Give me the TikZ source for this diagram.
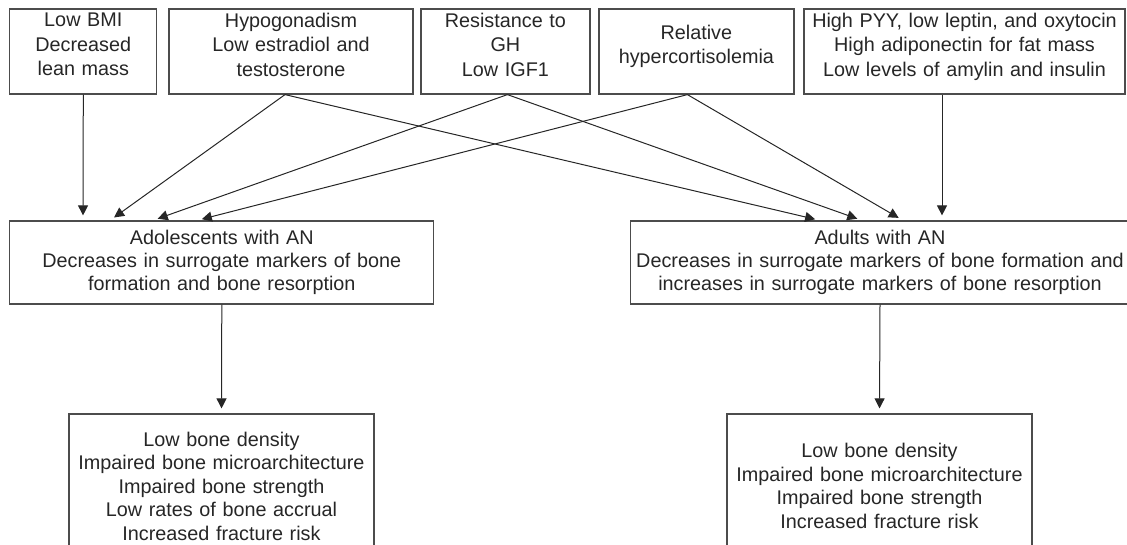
\documentclass[tikz,border=0pt]{standalone}
\usepackage{fontspec}
\setmainfont{Liberation Sans}
\usetikzlibrary{positioning,arrows.meta}
\newcommand{\lift}{\rule[-14pt]{0pt}{1pt}}

\begin{document}
\begin{tikzpicture}[x=1pt,y=-1pt,
    box/.style={draw=black!70, line width=1.2pt, align=center, inner sep=0pt,
      text=black!85},
    toprow/.style={box, font=\fontsize{19.8}{24.5}\selectfont, minimum height=85pt},
    midrow/.style={box, font=\fontsize{19.8}{23}\selectfont, minimum height=83pt},
    lowrow/.style={box, font=\fontsize{19.8}{23.5}\selectfont, minimum height=144pt,
      minimum width=305pt, text width=305pt},
    link/.style={draw=black!85, line width=1pt,
      -{Triangle[length=10pt,width=10pt]}, shorten >=5pt}]
\useasboundingbox (0,0) rectangle (1127,544);
\clip (0,0) rectangle (1127,544);
% top row
\node[toprow, minimum width=147pt, text width=147pt]
  (bmi) at (83.3,51.5) {Low BMI\\Decreased\\lean mass\lift};
\node[toprow, minimum width=244pt, text width=244pt]
  (hypo) at (291,51.5) {Hypogonadism\\Low estradiol and\\testosterone\lift};
\node[toprow, minimum width=169pt, text width=169pt]
  (gh) at (505.4,51.5) {Resistance to\\GH\\Low IGF1\lift};
\node[toprow, minimum width=195pt, text width=195pt]
  (cort) at (696.4,51.5) {Relative\\hypercortisolemia\lift};
\node[toprow, minimum width=321pt, text width=321pt]
  (horm) at (964.5,51.5) {High PYY, low leptin, and oxytocin\\High adiponectin for fat mass\\Low levels of amylin and insulin\lift};
% middle row
\node[midrow, minimum width=424pt, text width=424pt]
  (adol) at (221.8,262.5) {Adolescents with AN\\Decreases in surrogate markers of bone\\formation and bone resorption};
\node[midrow, minimum width=499pt, text width=499pt]
  (adult) at (880,262.5) {Adults with AN\\Decreases in surrogate markers of bone formation and\\increases in surrogate markers of bone resorption};
% bottom row
\node[lowrow] (adolout) at (221.5,486)
  {Low bone density\\Impaired bone microarchitecture\\Impaired bone strength\\Low rates of bone accrual\\Increased fracture risk};
\node[lowrow] (adultout) at (879.5,486)
  {Low bone density\\Impaired bone microarchitecture\\Impaired bone strength\\Increased fracture risk};
% to adolescents
\draw[link] (bmi.south) -- ([xshift=-138.8pt]adol.north);
\draw[link] ([xshift=-6pt]hypo.south) -- ([xshift=-111.8pt]adol.north);
\draw[link] ([xshift=2pt]gh.south) -- ([xshift=-68.8pt]adol.north);
\draw[link] ([xshift=-9pt]cort.south) -- ([xshift=-24.8pt]adol.north);
% to adults
\draw[link] ([xshift=-6pt]hypo.south) -- ([xshift=-60pt]adult.north);
\draw[link] ([xshift=2pt]gh.south) -- ([xshift=-18pt]adult.north);
\draw[link] ([xshift=-9pt]cort.south) -- ([xshift=23pt]adult.north);
\draw[link] ([xshift=-22.5pt]horm.south) -- ([xshift=62pt]adult.north);
% outcomes
\draw[link] (adol.south) -- (adolout.north);
\draw[link] (adult.south) -- (adultout.north);
\end{tikzpicture}
\end{document}
